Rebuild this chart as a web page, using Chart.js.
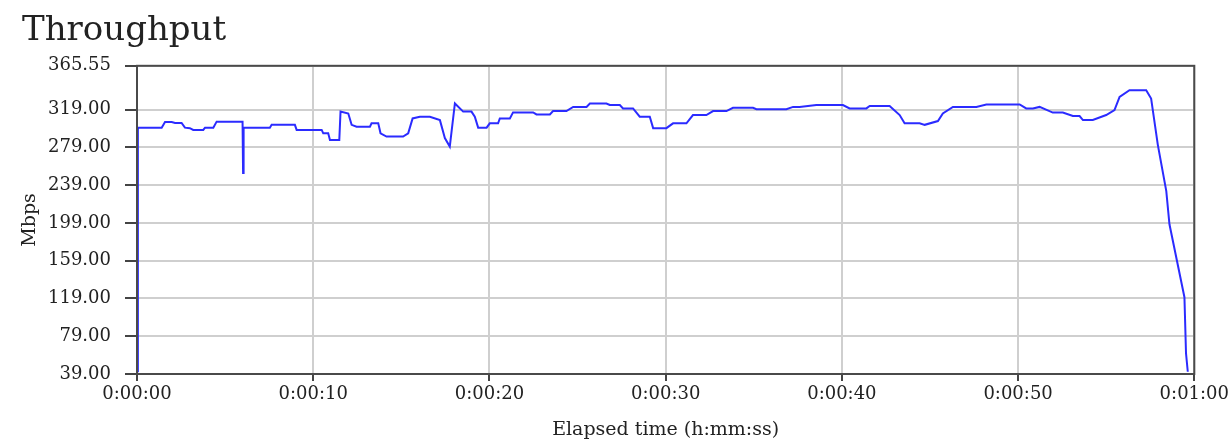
<!DOCTYPE html>
<html lang="en">
  <head>
    <title>Throughput</title>
    <meta charset="UTF-8" />
    <script src="https://cdn.jsdelivr.net/npm/chart.js@4"></script>
    <style>
      body { margin: 0; background: #fff; }
      .box { width: 1232px; height: 443px; }
    </style>
  </head>
  <body>
    <div class="box"><canvas id="chart"></canvas></div>

    <script>
      // elapsed seconds / Mbps
      const timeSec = [
        0, 0.05, 1.40, 1.59, 1.97, 2.16, 2.53, 2.72, 3.0, 3.19, 3.76, 3.86, 4.33, 4.52,
        5.99, 6.02, 6.05, 7.54, 7.64, 8.96, 9.06, 10.48, 10.57, 10.85, 10.95, 11.48,
        11.55, 11.99, 12.18, 12.46, 13.22, 13.31, 13.69, 13.82, 14.16, 15.10, 15.39,
        15.64, 16.05, 16.62, 17.19, 17.47, 17.75, 18.04, 18.51, 18.98, 19.17, 19.36,
        19.84, 20.02, 20.49, 20.59, 21.16, 21.34, 22.48, 22.67, 23.43, 23.61, 24.37,
        24.75, 25.51, 25.70, 26.64, 26.83, 27.40, 27.58, 28.15, 28.53, 29.10, 29.29,
        30.04, 30.42, 31.18, 31.55, 32.31, 32.69, 33.45, 33.82, 34.96, 35.15, 36.85,
        37.23, 37.60, 38.55, 40.06, 40.44, 41.39, 41.58, 42.71, 43.28, 43.56, 44.41,
        44.70, 45.45, 45.73, 46.30, 47.63, 48.20, 50.09, 50.46, 50.84, 51.22, 51.97,
        52.54, 53.11, 53.49, 53.68, 54.24, 55.00, 55.47, 55.76, 56.32, 57.27, 57.55,
        57.93, 58.41, 58.59, 59.44, 59.53, 59.63,
      ];
      const mbps = [
        42, 300, 300, 306, 306, 305, 305, 300, 299.5, 297.6, 297.6, 300, 300, 306.4,
        306.4, 252, 300, 300, 303, 303, 297.6, 297.6, 294, 294, 287, 287,
        317, 315, 303, 301, 301, 304.6, 304.6, 294, 290.6, 290.6, 294,
        309.8, 311.6, 311.6, 308, 289, 280, 325.6, 317, 317, 311.6, 300,
        300, 304.6, 304.6, 309.8, 309.8, 316.2, 316.2, 314, 314, 317.6, 317.6,
        322, 322, 325.6, 325.6, 324, 324, 320.4, 320.4, 311.6, 311.6, 299.5,
        299.5, 304.6, 304.6, 313.4, 313.4, 317.6, 317.6, 321, 321, 319.6, 319.6,
        322, 322, 324, 324, 320.4, 320.4, 322.9, 322.9, 313.4, 304.6, 304.6,
        303, 307, 315, 322, 322, 324.6, 324.6, 320.4, 320.4, 322, 316,
        316, 312.3, 312.3, 308.1, 308.1, 313.4, 318.7, 332.7, 339.7, 339.7, 330.9,
        281.8, 232.7, 197.6, 120.4, 60.8, 41.4,
      ];
      const yTicks = [39, 79, 119, 159, 199, 239, 279, 319, 365.55];
      const xTicks = [0, 10, 20, 30, 40, 50, 60];

      const serif = 'DejaVu Serif';

      function hms(s) {
        const m = Math.floor(s / 60);
        const ss = s % 60;
        return '0:' + String(m).padStart(2, '0') + ':' + String(ss).padStart(2, '0');
      }

      // dark frame round the plot area
      const frame = {
        id: 'frame',
        afterDraw(chart) {
          const { ctx, chartArea: a } = chart;
          ctx.save();
          ctx.strokeStyle = '#4a4a4a';
          ctx.lineWidth = 2;
          ctx.strokeRect(a.left, a.top, a.right - a.left, a.bottom - a.top);
          ctx.restore();
        },
      };

      const ctx = document.getElementById('chart').getContext('2d');
      const chart = new Chart(ctx, {
        type: 'line',
        data: {
          datasets: [
            {
              data: timeSec.map((t, i) => ({ x: t, y: mbps[i] })),
              borderColor: '#2b2bff',
              borderWidth: 2,
              pointRadius: 0,
              tension: 0,
            },
          ],
        },
        options: {
          responsive: true,
          maintainAspectRatio: false,
          animation: false,
          layout: { padding: { left: 22, right: 37, top: 0, bottom: 0 } },
          plugins: {
            legend: { display: false },
            tooltip: { enabled: false },
            title: {
              display: true,
              text: 'Throughput',
              align: 'start',
              color: '#222',
              font: { family: serif, size: 34, weight: 'normal' },
              padding: { top: 11, bottom: 14 },
            },
          },
          scales: {
            x: {
              type: 'linear',
              min: 0,
              max: 60,
              afterFit: (s) => { s.height = 69; },
              afterBuildTicks: (s) => { s.ticks = xTicks.map((v) => ({ value: v })); },
              ticks: {
                color: '#222',
                padding: 3,
                maxRotation: 0,
                font: { family: serif, size: 18 },
                callback: (v) => hms(v),
              },
              grid: { color: '#cfcfcf', lineWidth: 2, tickColor: '#444', tickLength: 7 },
              border: { color: '#4a4a4a', width: 2 },
              title: {
                display: true,
                text: 'Elapsed time (h:mm:ss)',
                color: '#222',
                font: { family: serif, size: 19 },
                padding: { top: 0, bottom: 2 },
              },
            },
            y: {
              min: 39,
              max: 365.55,
              afterFit: (s) => { s.width = 115; },
              afterBuildTicks: (s) => { s.ticks = yTicks.map((v) => ({ value: v })); },
              ticks: {
                color: '#222',
                padding: 14,
                font: { family: serif, size: 18 },
                callback: (v) => v.toFixed(2),
              },
              grid: { color: '#cfcfcf', lineWidth: 2, tickColor: '#444', tickLength: 12 },
              border: { color: '#4a4a4a', width: 2 },
              title: {
                display: true,
                text: 'Mbps',
                color: '#222',
                font: { family: serif, size: 19, lineHeight: 0.8 },
                padding: { top: 0, bottom: 0 },
              },
            },
          },
        },
        plugins: [frame],
      });
    </script>
  </body>
</html>
